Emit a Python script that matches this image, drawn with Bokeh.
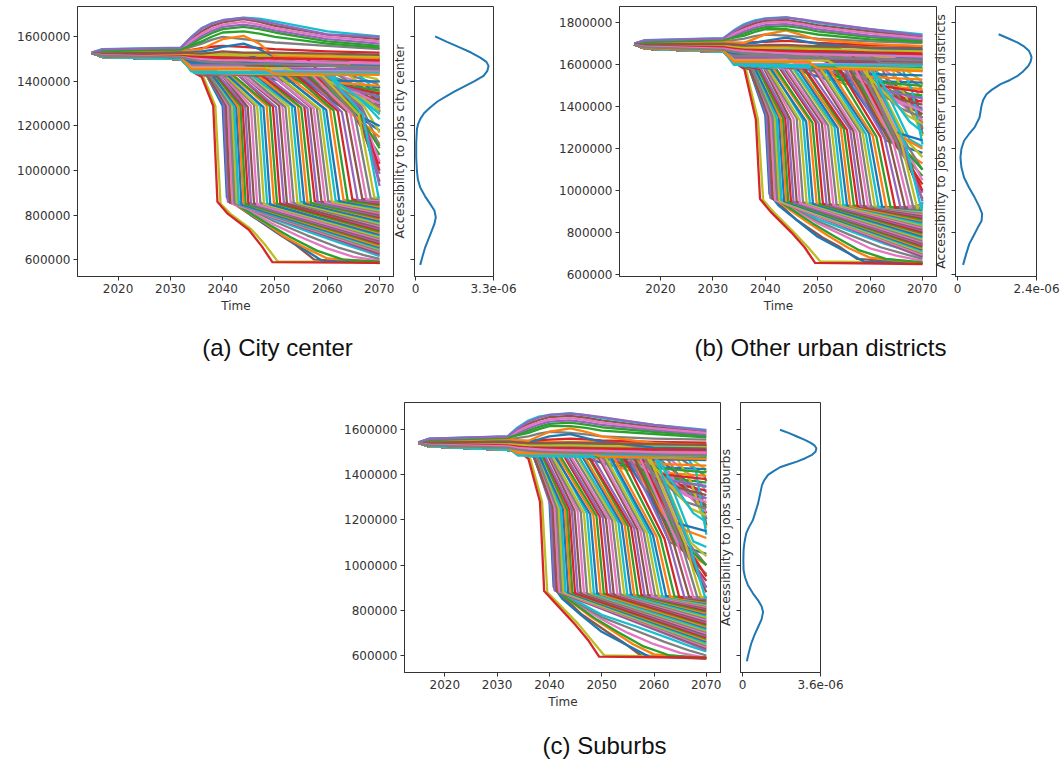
import numpy as np
from bokeh.embed import file_html
from bokeh.resources import INLINE
from bokeh.core.properties import value
from bokeh.layouts import column, row
from bokeh.models import FixedTicker, Range1d, Spacer
from bokeh.plotting import figure

TAB10 = ["#1f77b4", "#ff7f0e", "#2ca02c", "#d62728", "#9467bd",
         "#8c564b", "#e377c2", "#7f7f7f", "#bcbd22", "#17becf"]
YEAR_TICKS = [2020, 2030, 2040, 2050, 2060, 2070]
END_YEAR = 2070

# Accessibility values are in thousands of jobs; density values in 1e-6.
HEAD_T = [2015, 2017, 2032, 2034.5]
HEAD_A = [1528, 1510, 1500, 1440]
HEAD_B = [1698, 1678, 1662, 1605]
HEAD_C = [1540, 1525, 1510, 1498]

SLANT_T = [[2050, 2066], [2052, 2067], [2054, 2067.5], [2056, 2068], [2058, 2068.5],
           [2060, 2069], [2062, 2069], [2064, 2069.5], [2066, 2069.5], [2048, 2063],
           [2044, 2052], [2047, 2055], [2050, 2058], [2053, 2060], [2056, 2062],
           [2058, 2064], [2060, 2065], [2062, 2066], [2064, 2067], [2066, 2068],
           [2056, 2063], [2056.5, 2063.5], [2057, 2064], [2057.5, 2064.5], [2058, 2065],
           [2058.5, 2065.5], [2059, 2066], [2059.5, 2066.5], [2060, 2067], [2061, 2067.5],
           [2040, 2055], [2043, 2058], [2046, 2060], [2048, 2062], [2050, 2064],
           [2052, 2065], [2054, 2066], [2056, 2066], [2058, 2067], [2060, 2067.5],
           [2054, 2062], [2055, 2063], [2056, 2065], [2057, 2066], [2058, 2066.5]]
SLANT_A = [[1432, 1350, 1330], [1431, 1340, 1318], [1431, 1350, 1305], [1431, 1345, 1292], [1430, 1350, 1278],
           [1430, 1350, 1265], [1430, 1370, 1345], [1430, 1390, 1370], [1430, 1410, 1395], [1433, 1372, 1355],
           [1434, 1400, 1372], [1433, 1395, 1350], [1432, 1385, 1338], [1432, 1380, 1322], [1431, 1370, 1308],
           [1431, 1360, 1290], [1430, 1365, 1278], [1430, 1370, 1262], [1430, 1380, 1250], [1430, 1390, 1300],
           [1430, 1290, 1180], [1430, 1290, 1120], [1430, 1288, 1070], [1430, 1288, 1030], [1430, 1285, 985],
           [1430, 1285, 950], [1430, 1288, 1040], [1430, 1290, 1110], [1430, 1290, 1170], [1430, 1292, 1230],
           [1436, 1405, 1400], [1436, 1400, 1380], [1435, 1390, 1360], [1434, 1385, 1345],
           [1433, 1370, 1330], [1432, 1350, 1315], [1432, 1345, 1300], [1432, 1330, 1285],
           [1430, 1320, 1270], [1430, 1300, 1255], [1430, 1295, 1200], [1428, 1290, 1150],
           [1430, 1290, 1100], [1430, 1290, 1000], [1430, 1280, 930]]
SLANT_B = [[1590, 1420, 1385], [1590, 1410, 1365], [1590, 1420, 1345], [1590, 1420, 1320], [1588, 1430, 1295],
           [1588, 1430, 1270], [1588, 1470, 1430], [1588, 1500, 1465], [1588, 1530, 1505], [1590, 1480, 1445],
           [1592, 1530, 1515], [1590, 1510, 1485], [1590, 1490, 1455], [1590, 1470, 1425], [1590, 1450, 1395],
           [1588, 1440, 1365], [1588, 1430, 1335], [1588, 1430, 1300], [1588, 1440, 1260], [1588, 1480, 1220],
           [1586, 1240, 1180], [1586, 1240, 1130], [1586, 1238, 1070], [1586, 1238, 1030], [1586, 1235, 990],
           [1586, 1235, 960], [1586, 1238, 1050], [1586, 1240, 1100], [1586, 1240, 1160], [1586, 1245, 1210],
           [1595, 1560, 1550], [1595, 1545, 1530], [1592, 1520, 1500], [1590, 1500, 1470],
           [1590, 1470, 1440], [1590, 1440, 1410], [1590, 1420, 1380], [1590, 1390, 1350],
           [1588, 1360, 1320], [1588, 1330, 1280], [1588, 1300, 1240], [1585, 1300, 1200],
           [1585, 1240, 1100], [1585, 1220, 1000], [1585, 1200, 950]]
SLANT_C = [[1490, 1320, 1295], [1490, 1300, 1275], [1490, 1310, 1255], [1490, 1310, 1230], [1488, 1320, 1205],
           [1488, 1320, 1175], [1488, 1360, 1320], [1488, 1400, 1370], [1488, 1430, 1410], [1490, 1380, 1345],
           [1492, 1440, 1425], [1490, 1420, 1395], [1490, 1400, 1365], [1490, 1380, 1330], [1490, 1370, 1295],
           [1488, 1340, 1265], [1488, 1340, 1235], [1488, 1350, 1205], [1488, 1370, 1165], [1488, 1420, 1135],
           [1487, 1100, 1050], [1487, 1100, 1000], [1487, 1098, 960], [1487, 1098, 930], [1487, 1095, 900],
           [1487, 1095, 880], [1487, 1098, 950], [1487, 1100, 1000], [1487, 1100, 1040], [1487, 1105, 1080],
           [1495, 1470, 1465], [1495, 1450, 1440], [1492, 1430, 1410], [1490, 1400, 1380],
           [1490, 1370, 1350], [1490, 1340, 1310], [1490, 1310, 1280], [1490, 1280, 1250],
           [1488, 1250, 1220], [1488, 1230, 1190], [1488, 1200, 1150], [1485, 1180, 1120],
           [1485, 1110, 1000], [1485, 1090, 950], [1485, 1070, 900]]

LOW_T = [[2037, 2040.3, 2041, 2046, 2051, 2054, 2057.5, 2070],
         [2037.5, 2041.3, 2042.3, 2050, 2055, 2060, 2065, 2070],
         [2038, 2041.6, 2042.6, 2050, 2056, 2062, 2067, 2070],
         [2036.3, 2038.6, 2039.6, 2041.5, 2045.5, 2048, 2050.5, 2070],
         [2038, 2041.9, 2043, 2050, 2057, 2063, 2067, 2070],
         [2037, 2040, 2040.8, 2042.5, 2046, 2050, 2059, 2070],
         [2037, 2040.6, 2041.5, 2048, 2052, 2056, 2060, 2070],
         [2037.5, 2041, 2042, 2049, 2053, 2058, 2063, 2070],
         [2036, 2038.2, 2039, 2041, 2045, 2047.5, 2049.5, 2070]]
LOW_A = [[1425, 1290, 870, 790, 710, 665, 600, 584],
         [1428, 1290, 855, 755, 700, 650, 612, 595],
         [1428, 1290, 858, 770, 710, 655, 620, 603],
         [1422, 1290, 850, 805, 735, 670, 592, 588],
         [1428, 1290, 860, 780, 720, 670, 640, 615],
         [1425, 1290, 880, 848, 790, 728, 595, 585],
         [1425, 1290, 860, 765, 700, 650, 605, 588],
         [1425, 1290, 855, 755, 700, 640, 600, 590],
         [1420, 1290, 860, 805, 734, 659, 588, 585]]
LOW_B = [[1580, 1360, 975, 860, 775, 735, 675, 652],
         [1585, 1350, 960, 845, 785, 725, 690, 665],
         [1585, 1350, 960, 855, 790, 730, 695, 675],
         [1580, 1340, 955, 900, 800, 735, 662, 655],
         [1585, 1345, 960, 865, 800, 745, 715, 695],
         [1580, 1360, 985, 930, 860, 780, 660, 655],
         [1582, 1355, 965, 850, 785, 725, 680, 656],
         [1582, 1350, 960, 845, 785, 715, 675, 658],
         [1580, 1340, 960, 900, 800, 730, 655, 650]]
LOW_C = [[1480, 1290, 895, 785, 705, 660, 600, 585],
         [1485, 1275, 870, 760, 700, 650, 612, 590],
         [1485, 1275, 870, 770, 715, 660, 620, 600],
         [1475, 1280, 880, 835, 740, 670, 600, 592],
         [1485, 1270, 870, 780, 725, 675, 640, 618],
         [1480, 1290, 905, 850, 780, 705, 595, 590],
         [1482, 1285, 885, 770, 710, 650, 605, 588],
         [1482, 1280, 875, 760, 705, 640, 600, 588],
         [1470, 1280, 885, 835, 735, 665, 595, 590]]

DROP_T = [[2037, 2040.2, 2041], [2037, 2040.6, 2041.4], [2037.5, 2041, 2041.9], [2037.5, 2041.4, 2042.3],
          [2038, 2041.8, 2042.7], [2038, 2042.2, 2043.1], [2038, 2042.6, 2043.6], [2038.5, 2043, 2044],
          [2038.5, 2043.4, 2044.4], [2039, 2043.8, 2044.9], [2039, 2044.3, 2045.4], [2039.5, 2044.8, 2046],
          [2040, 2045.4, 2046.6], [2040, 2046, 2047.2], [2040.5, 2046.6, 2047.9], [2041, 2047.2, 2048.5],
          [2041, 2047.8, 2049.1], [2041.5, 2048.4, 2049.8], [2042, 2049, 2050.4], [2042.5, 2049.6, 2051],
          [2043, 2050.2, 2051.7], [2043.5, 2050.8, 2052.3], [2044, 2051.4, 2053], [2044.5, 2052, 2053.6],
          [2045, 2052.6, 2054.3], [2045.5, 2053.2, 2054.9], [2046, 2053.8, 2055.6], [2046.5, 2054.4, 2056.2],
          [2047, 2055, 2056.9], [2047.5, 2055.6, 2057.6], [2048, 2056.2, 2058.2], [2049, 2056.8, 2058.9],
          [2049.5, 2057.4, 2059.6], [2050, 2058, 2060.2], [2050.5, 2058.6, 2060.9], [2051, 2059.2, 2061.6],
          [2051.5, 2059.8, 2062.3], [2052, 2060.5, 2063.1], [2053, 2061.2, 2063.9], [2054, 2062, 2064.8],
          [2055, 2062.8, 2065.8], [2056, 2063.6, 2066.7], [2057, 2064.4, 2067.5], [2058, 2065.2, 2068.3],
          [2059, 2066, 2069], [2060, 2066.8, 2069.8]]
DROP_A = [[1430, 1300, 860, 622], [1428, 1295, 855, 628], [1432, 1292, 850, 634], [1425, 1290, 852, 640],
          [1430, 1295, 855, 645], [1434, 1288, 850, 650], [1428, 1290, 848, 655], [1436, 1285, 852, 660],
          [1430, 1290, 850, 668], [1426, 1292, 855, 672], [1432, 1288, 850, 678], [1438, 1285, 852, 685],
          [1428, 1290, 848, 690], [1434, 1295, 855, 696], [1430, 1288, 850, 702], [1436, 1290, 852, 708],
          [1426, 1285, 848, 712], [1432, 1292, 855, 720], [1428, 1290, 850, 725], [1438, 1288, 852, 732],
          [1430, 1285, 856, 738], [1434, 1292, 850, 744], [1426, 1290, 858, 750], [1432, 1285, 852, 756],
          [1436, 1288, 855, 762], [1428, 1292, 860, 768], [1434, 1285, 852, 772], [1430, 1290, 858, 780],
          [1438, 1282, 855, 786], [1426, 1288, 862, 790], [1432, 1280, 856, 796], [1436, 1285, 860, 802],
          [1428, 1278, 858, 808], [1434, 1282, 862, 814], [1430, 1275, 860, 820], [1436, 1280, 865, 826],
          [1428, 1272, 862, 832], [1432, 1278, 868, 838], [1438, 1270, 865, 844], [1430, 1268, 870, 850],
          [1434, 1262, 868, 856], [1426, 1265, 872, 860], [1432, 1258, 870, 866], [1436, 1255, 875, 872],
          [1428, 1252, 878, 878], [1434, 1250, 880, 882]]
DROP_B = [[1585, 1365, 965, 682], [1580, 1360, 960, 688], [1590, 1355, 955, 694], [1582, 1350, 958, 700],
          [1588, 1355, 952, 706], [1592, 1345, 955, 712], [1584, 1350, 950, 718], [1594, 1340, 952, 724],
          [1586, 1345, 948, 732], [1580, 1348, 950, 738], [1590, 1340, 945, 744], [1596, 1338, 948, 750],
          [1584, 1342, 942, 756], [1590, 1345, 945, 762], [1586, 1335, 940, 770], [1592, 1338, 942, 776],
          [1582, 1330, 938, 782], [1588, 1335, 940, 790], [1584, 1325, 936, 796], [1594, 1328, 938, 802],
          [1586, 1320, 934, 810], [1590, 1322, 936, 816], [1582, 1315, 932, 822], [1588, 1310, 934, 830],
          [1592, 1312, 930, 836], [1584, 1305, 932, 842], [1590, 1300, 930, 850], [1586, 1302, 928, 856],
          [1594, 1295, 930, 862], [1582, 1290, 926, 870], [1588, 1292, 928, 876], [1592, 1285, 925, 882],
          [1584, 1280, 926, 888], [1590, 1282, 924, 894], [1586, 1275, 926, 900], [1592, 1270, 922, 906],
          [1584, 1272, 924, 910], [1588, 1262, 920, 916], [1594, 1258, 922, 920], [1586, 1255, 918, 924],
          [1590, 1248, 920, 928], [1582, 1242, 916, 932], [1588, 1235, 918, 936], [1592, 1230, 915, 940],
          [1584, 1225, 916, 944], [1590, 1218, 912, 948]]
DROP_C = [[1485, 1265, 888, 625], [1482, 1260, 885, 632], [1490, 1258, 882, 638], [1484, 1255, 884, 644],
          [1488, 1252, 880, 650], [1492, 1250, 882, 656], [1486, 1252, 878, 662], [1494, 1248, 880, 668],
          [1488, 1245, 878, 674], [1482, 1248, 876, 680], [1490, 1242, 880, 686], [1496, 1240, 876, 692],
          [1486, 1238, 878, 698], [1490, 1235, 874, 704], [1488, 1230, 876, 710], [1494, 1228, 874, 716],
          [1484, 1225, 876, 722], [1490, 1222, 872, 728], [1486, 1218, 874, 734], [1494, 1215, 872, 740],
          [1488, 1210, 874, 746], [1492, 1206, 870, 752], [1484, 1202, 872, 758], [1490, 1198, 870, 764],
          [1494, 1192, 872, 770], [1486, 1188, 868, 776], [1492, 1182, 870, 782], [1488, 1178, 868, 788],
          [1496, 1172, 866, 794], [1484, 1168, 868, 800], [1490, 1162, 866, 806], [1494, 1158, 868, 810],
          [1486, 1152, 864, 815], [1492, 1148, 866, 820], [1488, 1142, 864, 824], [1494, 1138, 862, 828],
          [1486, 1132, 864, 832], [1490, 1126, 860, 836], [1496, 1122, 862, 840], [1488, 1116, 860, 844],
          [1492, 1112, 858, 848], [1484, 1108, 860, 852], [1490, 1102, 858, 856], [1494, 1098, 856, 858],
          [1486, 1094, 858, 860], [1492, 1090, 855, 862]]

UPPER_T = [2015, 2017, 2032, 2034, 2036, 2038, 2040, 2044, 2047, 2050, 2060, 2070]
UPPER_A = [[1530, 1538, 1545, 1570, 1595, 1618, 1635, 1645, 1635, 1620, 1580, 1560],
           [1527, 1528, 1535, 1542, 1550, 1556, 1560, 1555, 1550, 1545, 1535, 1530],
           [1530, 1539, 1546, 1577, 1605, 1628, 1645, 1655, 1645, 1630, 1590, 1570],
           [1530, 1542, 1549, 1590, 1625, 1650, 1665, 1680, 1668, 1650, 1610, 1590],
           [1529, 1540, 1548, 1583, 1615, 1638, 1655, 1668, 1655, 1640, 1600, 1580],
           [1528, 1532, 1540, 1555, 1570, 1588, 1600, 1590, 1582, 1575, 1560, 1545],
           [1526, 1522, 1522, 1521, 1520, 1520, 1520, 1520, 1519, 1518, 1512, 1510],
           [1530, 1545, 1552, 1600, 1640, 1662, 1675, 1687, 1682, 1670, 1625, 1603],
           [1527, 1530, 1538, 1536, 1535, 1542, 1555, 1570, 1545, 1510, 1500, 1495],
           [1528, 1534, 1540, 1541, 1545, 1568, 1590, 1605, 1570, 1510, 1505, 1500],
           [1529, 1536, 1543, 1562, 1580, 1602, 1620, 1625, 1615, 1600, 1570, 1552],
           [1525, 1520, 1515, 1512, 1510, 1509, 1508, 1505, 1505, 1505, 1500, 1495],
           [1530, 1544, 1551, 1598, 1638, 1660, 1675, 1686, 1675, 1660, 1612, 1600],
           [1526, 1525, 1530, 1527, 1525, 1530, 1535, 1530, 1530, 1530, 1525, 1520],
           [1525, 1518, 1510, 1504, 1500, 1497, 1495, 1495, 1492, 1490, 1485, 1480],
           [1525, 1515, 1508, 1498, 1490, 1487, 1485, 1480, 1479, 1478, 1470, 1465]]
UPPER_B = [[1701, 1711, 1720, 1735, 1750, 1768, 1780, 1785, 1775, 1760, 1732, 1716],
           [1698, 1700, 1705, 1705, 1705, 1708, 1710, 1715, 1710, 1705, 1695, 1690],
           [1701, 1712, 1721, 1742, 1760, 1778, 1790, 1795, 1785, 1770, 1740, 1722],
           [1702, 1715, 1724, 1755, 1780, 1798, 1810, 1815, 1803, 1790, 1760, 1735],
           [1701, 1713, 1722, 1748, 1770, 1788, 1800, 1805, 1795, 1780, 1750, 1728],
           [1699, 1705, 1711, 1718, 1725, 1737, 1745, 1740, 1732, 1725, 1712, 1704],
           [1697, 1694, 1690, 1686, 1682, 1681, 1680, 1680, 1678, 1675, 1670, 1665],
           [1702, 1718, 1727, 1765, 1795, 1812, 1822, 1828, 1815, 1800, 1770, 1745],
           [1699, 1703, 1708, 1703, 1700, 1705, 1715, 1730, 1715, 1700, 1680, 1675],
           [1700, 1707, 1712, 1707, 1705, 1725, 1745, 1765, 1742, 1720, 1700, 1690],
           [1700, 1709, 1718, 1730, 1740, 1757, 1770, 1770, 1758, 1745, 1722, 1710],
           [1697, 1690, 1685, 1678, 1672, 1671, 1670, 1665, 1665, 1665, 1660, 1655],
           [1702, 1717, 1726, 1762, 1790, 1808, 1820, 1825, 1817, 1805, 1770, 1740],
           [1698, 1697, 1700, 1696, 1692, 1693, 1695, 1695, 1692, 1690, 1682, 1680],
           [1696, 1687, 1678, 1670, 1665, 1662, 1660, 1655, 1652, 1650, 1645, 1640],
           [1696, 1684, 1672, 1662, 1655, 1652, 1650, 1640, 1637, 1635, 1630, 1625]]
UPPER_C = [[1542, 1555, 1565, 1580, 1595, 1612, 1625, 1630, 1622, 1610, 1590, 1572],
           [1540, 1545, 1550, 1550, 1550, 1552, 1555, 1560, 1556, 1552, 1545, 1542],
           [1542, 1556, 1566, 1587, 1605, 1622, 1635, 1640, 1632, 1620, 1598, 1578],
           [1543, 1558, 1568, 1600, 1625, 1642, 1655, 1660, 1652, 1640, 1612, 1590],
           [1542, 1557, 1567, 1593, 1615, 1632, 1645, 1650, 1642, 1630, 1605, 1585],
           [1541, 1549, 1556, 1563, 1570, 1582, 1590, 1585, 1578, 1570, 1560, 1555],
           [1540, 1540, 1538, 1533, 1530, 1530, 1530, 1530, 1529, 1528, 1525, 1523],
           [1543, 1560, 1570, 1610, 1640, 1657, 1665, 1672, 1664, 1650, 1620, 1598],
           [1540, 1547, 1553, 1548, 1545, 1556, 1570, 1580, 1562, 1545, 1520, 1515],
           [1541, 1551, 1558, 1553, 1550, 1570, 1590, 1605, 1590, 1570, 1540, 1530],
           [1541, 1553, 1563, 1575, 1585, 1602, 1615, 1615, 1607, 1595, 1580, 1565],
           [1539, 1536, 1530, 1524, 1520, 1519, 1518, 1518, 1516, 1515, 1512, 1510],
           [1543, 1559, 1569, 1605, 1635, 1652, 1665, 1670, 1663, 1655, 1620, 1595],
           [1540, 1542, 1545, 1542, 1540, 1540, 1540, 1542, 1540, 1538, 1535, 1532],
           [1539, 1533, 1525, 1519, 1515, 1512, 1510, 1508, 1506, 1505, 1500, 1498],
           [1539, 1530, 1520, 1511, 1505, 1502, 1500, 1498, 1496, 1495, 1490, 1485]]

MID_HEAD_T = [2015, 2017, 2032, 2034]
MID_T = [[2041, 2043], [2046, 2047], [2054, 2056], [2058, 2059], [2036, 2037], [2062, 2063],
         [2042, 2050], [2049, 2055], [2053, 2060], [2035, 2036], [2045, 2052], [2057, 2066],
         [2047.5, 2049], [2056, 2058], [2040, 2048], [2050, 2052], [2044, 2046],
         [2060, 2062], [2052, 2054], [2038, 2039], [2064, 2065], [2048, 2050]]
MID_HEAD_A = [1527, 1515, 1510]
MID_HEAD_B = [1697, 1680, 1668]
MID_HEAD_C = [1542, 1530, 1520]
MID_A = [[1515, 1510, 1505], [1510, 1502, 1498], [1525, 1515, 1512], [1495, 1488, 1485], [1478, 1475, 1472], [1470, 1468, 1465],
         [1520, 1492, 1488], [1512, 1482, 1478], [1508, 1500, 1452], [1445, 1442, 1434], [1518, 1458, 1450], [1522, 1505, 1502],
         [1500, 1445, 1440], [1505, 1455, 1445], [1475, 1460, 1455], [1490, 1470, 1470], [1465, 1450, 1445],
         [1480, 1465, 1460], [1460, 1440, 1438], [1450, 1445, 1440], [1485, 1475, 1470], [1455, 1435, 1430]]
MID_B = [[1685, 1675, 1668], [1678, 1660, 1652], [1680, 1648, 1640], [1670, 1655, 1648], [1635, 1630, 1622], [1632, 1628, 1620],
         [1668, 1642, 1635], [1662, 1632, 1625], [1658, 1645, 1608], [1600, 1595, 1578], [1672, 1612, 1602], [1690, 1678, 1672],
         [1660, 1590, 1585], [1665, 1600, 1570], [1640, 1625, 1615], [1650, 1620, 1610], [1625, 1605, 1600],
         [1645, 1610, 1605], [1620, 1590, 1580], [1605, 1600, 1595], [1655, 1640, 1630], [1615, 1585, 1570]]
MID_C = [[1535, 1530, 1528], [1528, 1525, 1520], [1540, 1535, 1530], [1512, 1505, 1502], [1492, 1490, 1487], [1502, 1498, 1495],
         [1538, 1512, 1508], [1522, 1502, 1498], [1518, 1510, 1480], [1485, 1482, 1472], [1532, 1495, 1488], [1545, 1538, 1535],
         [1500, 1480, 1475], [1525, 1510, 1490], [1510, 1505, 1500], [1520, 1515, 1510], [1505, 1495, 1490],
         [1515, 1508, 1505], [1498, 1488, 1483], [1490, 1488, 1485], [1530, 1522, 1518], [1495, 1480, 1470]]

KDE_LEVEL_A = [1603, 1578, 1552, 1530, 1507, 1488, 1470, 1448, 1425, 1400, 1376, 1355, 1335, 1310, 1283, 1257, 1231,
               1208, 1186, 1119, 1060, 999, 960, 924, 885, 850, 820, 790, 760, 730, 690, 655, 615, 576]
KDE_VALUE_A = [0.83, 1.33, 1.89, 2.35, 2.74, 3.00, 3.09, 3.04, 2.88, 2.48, 2.03, 1.66, 1.33, 0.93, 0.62, 0.36, 0.20,
               0.11, 0.06, 0.03, 0.03, 0.06, 0.10, 0.20, 0.40, 0.62, 0.80, 0.86, 0.80, 0.69, 0.54, 0.41, 0.30, 0.20]
KDE_LEVEL_B = [1746, 1726, 1706, 1687, 1667, 1650, 1635, 1615, 1595, 1570, 1548, 1528, 1508, 1482, 1460, 1432, 1405,
               1349, 1302, 1268, 1238, 1200, 1159, 1110, 1063, 1015, 968, 925, 889, 855, 825, 785, 746, 696, 646]
KDE_VALUE_B = [1.25, 1.55, 1.83, 2.03, 2.17, 2.22, 2.25, 2.22, 2.15, 2.00, 1.83, 1.60, 1.31, 1.05, 0.88, 0.78, 0.73,
               0.67, 0.52, 0.34, 0.20, 0.12, 0.09, 0.12, 0.20, 0.35, 0.52, 0.66, 0.75, 0.73, 0.62, 0.49, 0.36, 0.26, 0.17]
KDE_LEVEL_C = [1599, 1584, 1569, 1555, 1542, 1530, 1517, 1502, 1488, 1473, 1458, 1445, 1433, 1415, 1399, 1375, 1354,
               1273, 1199, 1168, 1140, 1100, 1066, 1020, 977, 945, 911, 875, 844, 818, 792, 760, 726, 690, 652, 612, 575]
KDE_VALUE_C = [1.73, 2.15, 2.51, 2.85, 3.13, 3.32, 3.41, 3.37, 3.21, 2.90, 2.51, 2.10, 1.73, 1.42, 1.18, 1.00, 0.90,
               0.72, 0.48, 0.30, 0.17, 0.09, 0.05, 0.04, 0.05, 0.12, 0.25, 0.48, 0.72, 0.88, 0.95, 0.88, 0.72, 0.55, 0.40, 0.29, 0.20]

LEVEL_TICKS_A = [600000, 800000, 1000000, 1200000, 1400000, 1600000]
LEVEL_TICKS_B = [600000, 800000, 1000000, 1200000, 1400000, 1600000, 1800000]
LEVEL_TICKS_C = [600000, 800000, 1000000, 1200000, 1400000, 1600000]

LABEL_A = "Accessibility to jobs city center"
LABEL_B = "Accessibility to jobs other urban districts"
LABEL_C = "Accessibility to jobs suburbs"
CAPTIONS_TOP = ["(a) City center", "(b) Other urban districts"]
CAPTION_BOTTOM = ["(c) Suburbs"]

FONT = "DejaVu Sans"
INK = "#333333"


def paths(head, slant, low, drop, upper, mid_head, mid):
    out = []
    for t, v in zip(SLANT_T, slant):
        out.append((HEAD_T + t + [END_YEAR], head + v))
    for t, v in zip(LOW_T, low):
        out.append((HEAD_T + t, head + v))
    for t, v in zip(DROP_T, drop):
        out.append((HEAD_T + t + [END_YEAR], head + v))
    for t, v in zip(MID_T, mid):
        out.append((MID_HEAD_T + t + [END_YEAR], mid_head + [v[0], v[0], v[1], v[2]]))
    for v in upper:
        out.append((UPPER_T, v))
    return out


def style(p):
    p.grid.visible = False
    p.outline_line_color = INK
    p.outline_line_width = 1
    p.background_fill_color = "white"
    p.border_fill_color = None
    for ax in (p.xaxis[0], p.yaxis[0]):
        ax.axis_line_color = INK
        ax.major_tick_line_color = INK
        ax.major_tick_out = 4
        ax.major_tick_in = 0
        ax.minor_tick_line_color = None
        ax.major_label_text_font = FONT
        ax.major_label_text_font_size = "12px"
        ax.major_label_text_color = INK
        ax.axis_label_text_font = FONT
        ax.axis_label_text_font_size = "12px"
        ax.axis_label_text_font_style = "normal"
        ax.axis_label_text_color = INK
        ax.major_label_standoff = 3


def main_panel(all_paths, xr, yr, ticks, left, fw, fh):
    p = figure(frame_width=fw, frame_height=fh, x_range=Range1d(*xr), y_range=yr,
               min_border_left=left, min_border_right=0, min_border_top=6, min_border_bottom=40,
               output_backend="svg", toolbar_location=None)
    for i, (t, v) in enumerate(all_paths):
        p.line(t, np.array(v) * 1000, line_color=TAB10[i % 10], line_width=2.3, line_join="round")
    style(p)
    p.xaxis[0].ticker = FixedTicker(ticks=YEAR_TICKS)
    p.xaxis[0].axis_label = "Time"
    p.xaxis[0].axis_label_standoff = 3
    p.yaxis[0].ticker = FixedTicker(ticks=ticks)
    p.yaxis[0].major_label_overrides = {k: str(k) for k in ticks}
    return p


def kde_panel(level, val, xr, top, label, yr, ticks, left, fw, fh):
    # The left border is wider than the gap to the main panel: the negative margin
    # lets the axis title sit in the gap without moving the frame.
    p = figure(frame_width=fw, frame_height=fh, x_range=Range1d(*xr), y_range=yr,
               min_border_left=left + 16, min_border_right=24, min_border_top=6, min_border_bottom=40,
               margin=(0, 0, 0, -16),
               output_backend="svg", toolbar_location=None)
    p.line(val, np.array(level) * 1000, line_color="#1f77b4", line_width=2, line_join="round")
    style(p)
    p.xaxis[0].ticker = FixedTicker(ticks=[0, top])
    p.xaxis[0].major_label_overrides = {0: "0", top: "%.1fe-06" % top}
    p.yaxis[0].ticker = FixedTicker(ticks=ticks)
    p.yaxis[0].major_label_overrides = {k: "" for k in ticks}
    p.yaxis[0].major_label_standoff = 0
    p.yaxis[0].axis_label = label
    p.yaxis[0].axis_label_standoff = 4
    p.yaxis[0].axis_label_text_font_size = "12.5px"
    return p


def caption(texts, xs, y, w, h):
    p = figure(width=w, height=h, x_range=Range1d(0, w), y_range=Range1d(h, 0),
               min_border=0, output_backend="svg", toolbar_location=None)
    p.axis.visible = False
    p.grid.visible = False
    p.outline_line_color = None
    p.background_fill_color = None
    p.border_fill_color = None
    p.text(xs, [y] * len(xs), text=texts, text_align="center", text_baseline="middle",
           text_font=value("Liberation Sans"), text_font_size="24px", text_color="#111111")
    return p


yr_a = Range1d(523800, 1736800)
yr_b = Range1d(590476, 1878571)
yr_c = Range1d(524779, 1719469)

main_a = main_panel(paths(HEAD_A, SLANT_A, LOW_A, DROP_A, UPPER_A, MID_HEAD_A, MID_A),
                    (2012.25, 2072.85), yr_a, LEVEL_TICKS_A, 77, 317, 270)
kde_a = kde_panel(KDE_LEVEL_A, KDE_VALUE_A, (-0.042, 3.3), 3.3, LABEL_A, yr_a, LEVEL_TICKS_A, 20, 79, 270)
main_b = main_panel(paths(HEAD_B, SLANT_B, LOW_B, DROP_B, UPPER_B, MID_HEAD_B, MID_B),
                    (2012.18, 2072.87), yr_b, LEVEL_TICKS_B, 63, 318, 270)
kde_b = kde_panel(KDE_LEVEL_B, KDE_VALUE_B, (-0.06, 2.4), 2.4, LABEL_B, yr_b, LEVEL_TICKS_B, 18, 81, 270)
main_c = main_panel(paths(HEAD_C, SLANT_C, LOW_C, DROP_C, UPPER_C, MID_HEAD_C, MID_C),
                    (2012.3, 2072.9), yr_c, LEVEL_TICKS_C, 63, 317, 270)
kde_c = kde_panel(KDE_LEVEL_C, KDE_VALUE_C, (-0.092, 3.6), 3.6, LABEL_C, yr_c, LEVEL_TICKS_C, 19, 80, 270)

top_row = row(main_a, kde_a, Spacer(width=39, height=10), main_b, kde_b, spacing=0)
mid_caption = caption(CAPTIONS_TOP, [277, 820], 31, 1060, 80)
bottom_row = row(Spacer(width=341, height=10), main_c, kde_c, spacing=0)
bottom_caption = caption(CAPTION_BOTTOM, [604], 33, 1060, 50)

page = column(top_row, mid_caption, bottom_row, bottom_caption, spacing=0)
open("out.html", "w").write(file_html(page, INLINE))
